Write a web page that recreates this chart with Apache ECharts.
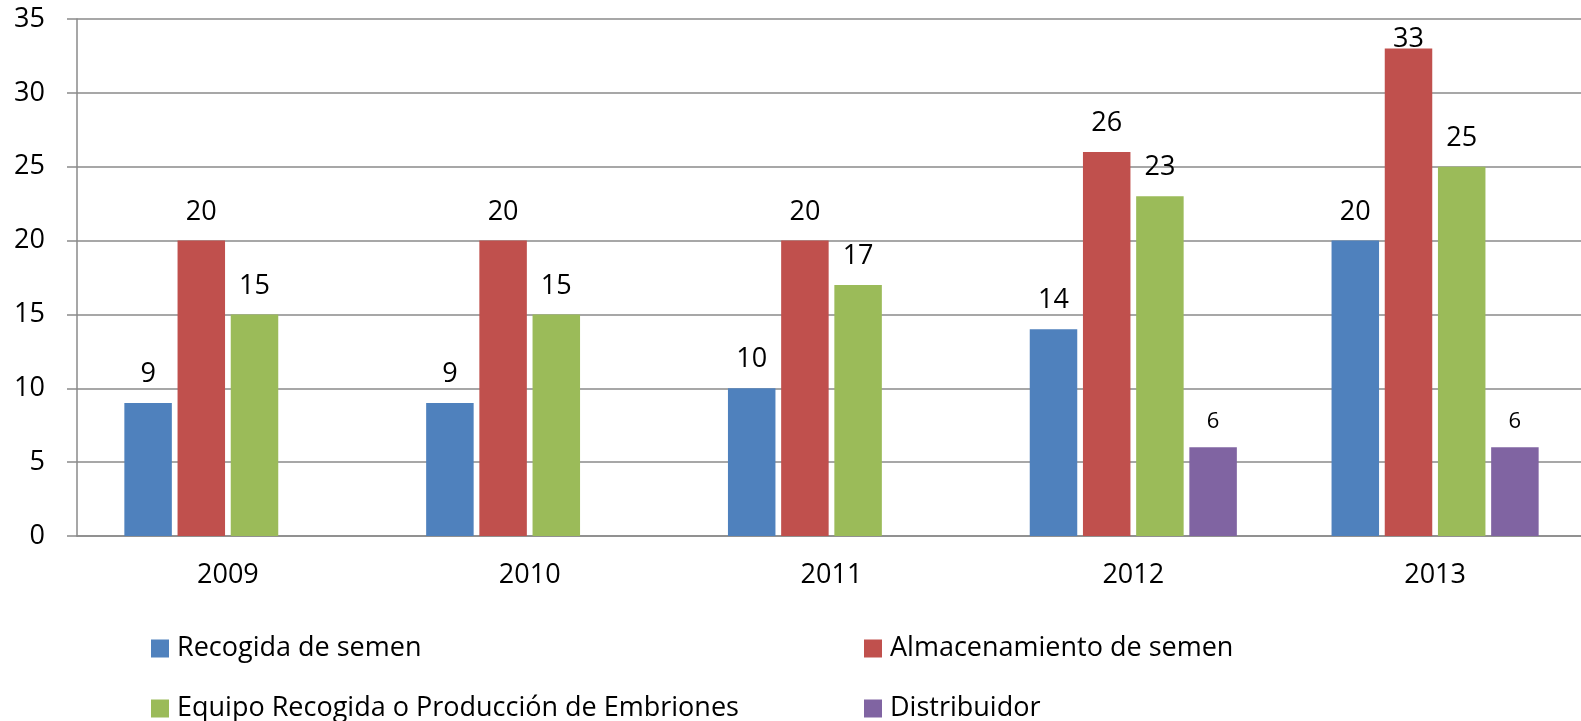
<!DOCTYPE html>
<html>
<head>
<meta charset="utf-8">
<script src="https://cdn.jsdelivr.net/npm/echarts@6/dist/echarts.min.js"></script>
<style>
html,body{margin:0;padding:0;background:#fff;}
#main{width:1581px;height:721px;}
</style>
</head>
<body>
<div id="main"></div>
<script>
var years = ['2009', '2010', '2011', '2012', '2013'];
var recogida = [9, 9, 10, 14, 20];
var almacenamiento = [20, 20, 20, 26, 33];
var equipo = [15, 15, 17, 23, 25];
var distribuidor = ['-', '-', '-', 6, 6];
var seriesNames = ['Recogida de semen', 'Almacenamiento de semen', 'Equipo Recogida o Producción de Embriones', 'Distribuidor'];
var colors = ['#4F81BD', '#C0504D', '#9BBB59', '#8064A2'];

var font = 'Open Sans';

// etiqueta encima de la barra; si toca el borde superior se mete abajo
function labelData(arr, max){
  return arr.map(function(v){
    if(v === '-') return v;
    if(v > max) return {value: v, label: {distance: -4}};
    return v;
  });
}

function bar(name, data, color, size){
  return {
    name: name,
    type: 'bar',
    data: data,
    barWidth: 47.5,
    barGap: '12%',
    itemStyle: {color: color},
    label: {
      show: true,
      position: 'top',
      distance: 15,
      color: '#000',
      fontFamily: font,
      fontSize: size
    }
  };
}

// una leyenda por serie, colocadas en dos columnas
function legendItem(name, left, top){
  return {
    left: left, top: top, icon: 'rect',
    itemWidth: 18, itemHeight: 18,
    data: [name],
    textStyle: {fontFamily: font, fontSize: 27, color: '#000', padding: [0, 0, 0, 3]}
  };
}

var chart = echarts.init(document.getElementById('main'));
chart.setOption({
  animation: false,
  color: colors,
  grid: {left: 77, width: 1509, top: 19, bottom: 185, outerBoundsMode: 'none'},
  legend: [
    legendItem(seriesNames[0], 146, 630),
    legendItem(seriesNames[1], 859, 630),
    legendItem(seriesNames[2], 146, 690),
    legendItem(seriesNames[3], 859, 690)
  ],
  xAxis: {
    type: 'category',
    data: years,
    axisLine: {lineStyle: {color: '#8a8a8a', width: 1.5}},
    axisTick: {show: false},
    axisLabel: {margin: 26, color: '#000', fontFamily: font, fontSize: 27}
  },
  yAxis: {
    type: 'value',
    min: 0, max: 35, interval: 5,
    axisLine: {show: true, lineStyle: {color: '#8a8a8a', width: 1.5}},
    axisTick: {show: true, length: 10, lineStyle: {color: '#8a8a8a', width: 1.5}},
    splitLine: {lineStyle: {color: '#8a8a8a', width: 1.5}},
    axisLabel: {margin: 32, color: '#000', fontFamily: font, fontSize: 27}
  },
  series: [
    bar(seriesNames[0], labelData(recogida, 32), colors[0], 27),
    bar(seriesNames[1], labelData(almacenamiento, 32), colors[1], 27),
    bar(seriesNames[2], labelData(equipo, 32), colors[2], 27),
    bar(seriesNames[3], labelData(distribuidor, 32), colors[3], 22)
  ]
});
</script>
</body>
</html>
